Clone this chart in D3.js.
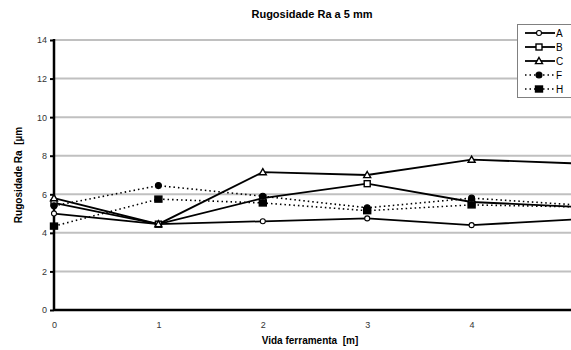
<!DOCTYPE html>
<html>
<head>
<meta charset="utf-8">
<script src="https://cdn.jsdelivr.net/npm/d3@7"></script>
<style>
  html, body { margin: 0; padding: 0; background: #fff; }
  svg { display: block; font-family: "Liberation Sans", Arial, sans-serif; }
  text { white-space: pre; }
</style>
</head>
<body>
<svg id="chart" width="571" height="350"></svg>
<script>
// Tool life positions (m)
const vida = [0, 1, 2, 3, 4, 5];
// Roughness Ra (µm) per series
const serieA = [5.0, 4.45, 4.6, 4.75, 4.4, 4.7];
const serieB = [5.55, 4.45, 5.8, 6.55, 5.6, 5.35];
const serieC = [5.8, 4.45, 7.15, 7.0, 7.8, 7.6];
const serieF = [5.4, 6.45, 5.9, 5.3, 5.8, 5.45];
const serieH = [4.35, 5.75, 5.55, 5.15, 5.45, 5.35];
const seriesNames = ["A", "B", "C", "F", "H"];
const yTicks = [0, 2, 4, 6, 8, 10, 12, 14];
const xTicks = [0, 1, 2, 3, 4];

const seriesData = [serieA, serieB, serieC, serieF, serieH];
const styles = {
  A: { dash: null, marker: "circle", fill: "#fff" },
  B: { dash: null, marker: "square", fill: "#fff" },
  C: { dash: null, marker: "triangle", fill: "#fff" },
  F: { dash: "1.5,3", marker: "circle", fill: "#000" },
  H: { dash: "1.5,3", marker: "square", fill: "#000" }
};

const svg = d3.select("#chart");
const plotLeft = 54, plotTop = 40, plotBottom = 310, plotRight = 576;

const x = d3.scaleLinear().domain([0, 5]).range([plotLeft, plotRight]);
const y = d3.scaleLinear().domain([0, 14]).range([plotBottom, plotTop]);

// Horizontal gridlines
svg.append("g").selectAll("line").data(yTicks.filter(d => d > 0)).join("line")
  .attr("x1", plotLeft).attr("x2", 571)
  .attr("y1", d => y(d)).attr("y2", d => y(d))
  .attr("stroke", "#c0c0c0").attr("stroke-width", 2);

// Y axis
const yAxis = d3.axisLeft(y).tickValues(yTicks).tickFormat(d3.format("d")).tickSize(4).tickPadding(3);
const gy = svg.append("g").attr("transform", `translate(${plotLeft},0)`).call(yAxis);
gy.select(".domain").remove();
gy.selectAll(".tick line").attr("stroke", "#000").attr("stroke-width", 2);
gy.selectAll(".tick text").attr("font-size", 9).attr("fill", "#333")
  .attr("font-family", "Liberation Sans, Arial, sans-serif");

// X axis labels
const xAxis = d3.axisBottom(x).tickValues(xTicks).tickFormat(d3.format("d")).tickSize(0).tickPadding(12);
const gx = svg.append("g").attr("transform", `translate(0,${plotBottom})`).call(xAxis);
gx.select(".domain").remove();
gx.selectAll(".tick text").attr("font-size", 9).attr("fill", "#333")
  .attr("font-family", "Liberation Sans, Arial, sans-serif");

// Axis lines
svg.append("line").attr("x1", plotLeft).attr("x2", plotLeft).attr("y1", plotTop - 1).attr("y2", plotBottom + 1)
  .attr("stroke", "#000").attr("stroke-width", 2.5);
svg.append("line").attr("x1", plotLeft).attr("x2", 571).attr("y1", plotBottom).attr("y2", plotBottom)
  .attr("stroke", "#000").attr("stroke-width", 2.5);

// Clip to the plotting area
svg.append("clipPath").attr("id", "plotClip")
  .append("rect").attr("x", plotLeft - 8).attr("y", plotTop - 8)
  .attr("width", 571 - plotLeft + 8).attr("height", plotBottom - plotTop + 16);

const line = d3.line().x((d, i) => x(vida[i])).y(d => y(d));

function drawMarker(g, type, cx, cy, fill) {
  if (type === "circle") {
    g.append("circle").attr("cx", cx).attr("cy", cy).attr("r", fill === "#000" ? 3 : 2.5)
      .attr("fill", fill).attr("stroke", "#000").attr("stroke-width", 1.1);
  } else if (type === "square") {
    const w = fill === "#000" ? 7 : 6, h = fill === "#000" ? 6 : 6;
    g.append("rect").attr("x", cx - w / 2).attr("y", cy - h / 2).attr("width", w).attr("height", h)
      .attr("fill", fill).attr("stroke", "#000").attr("stroke-width", 1.4);
  } else {
    const s = 3.5;
    g.append("path").attr("d", `M${cx},${cy - s}L${cx + s},${cy + s * 0.75}L${cx - s},${cy + s * 0.75}Z`)
      .attr("fill", fill).attr("stroke", "#000").attr("stroke-width", 1.4);
  }
}

const plot = svg.append("g").attr("clip-path", "url(#plotClip)");
seriesNames.forEach((name, k) => {
  const st = styles[name];
  plot.append("path").datum(seriesData[k]).attr("d", line)
    .attr("fill", "none").attr("stroke", "#000")
    .attr("stroke-width", st.dash ? 1.6 : 1.8)
    .attr("stroke-dasharray", st.dash);
});
seriesNames.forEach((name, k) => {
  const st = styles[name];
  seriesData[k].forEach((v, i) => drawMarker(plot, st.marker, x(vida[i]), y(v), st.fill));
});

// Legend
const legend = svg.append("g");
legend.append("rect").attr("x", 517.5).attr("y", 24.5).attr("width", 60).attr("height", 73)
  .attr("fill", "#fff").attr("stroke", "#808080").attr("stroke-width", 1);
seriesNames.forEach((name, k) => {
  const st = styles[name];
  const ly = 33 + k * 14;
  legend.append("line").attr("x1", 525).attr("x2", 555).attr("y1", ly).attr("y2", ly)
    .attr("stroke", "#000").attr("stroke-width", st.dash ? 1.4 : 1.8)
    .attr("stroke-dasharray", st.dash);
  drawMarker(legend, st.marker, 539, ly, st.fill);
  legend.append("text").attr("x", 556).attr("y", ly + 3.5).attr("font-size", 10).attr("fill", "#000").text(name);
});

// Titles
svg.append("text").attr("x", 312).attr("y", 18).attr("text-anchor", "middle")
  .attr("font-size", 11).attr("font-weight", "bold").text("Rugosidade Ra a 5 mm");
svg.append("text").attr("x", 310).attr("y", 344).attr("text-anchor", "middle")
  .attr("font-size", 10).attr("font-weight", "bold").text("Vida ferramenta  [m]");
svg.append("text").attr("transform", "translate(22,175) rotate(-90)").attr("text-anchor", "middle")
  .attr("font-size", 10).attr("font-weight", "bold").text("Rugosidade Ra  [µm");
</script>
</body>
</html>
